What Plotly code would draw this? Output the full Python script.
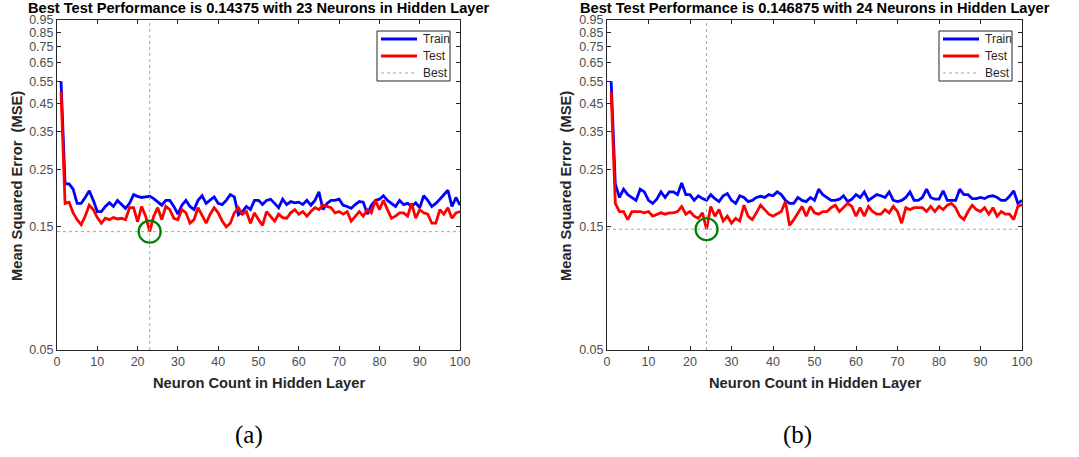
import math
import plotly.graph_objects as go

neurons = list(range(1, 101))

train_a = [0.55, 0.22, 0.22, 0.21, 0.185, 0.185, 0.195, 0.207, 0.19, 0.172,
           0.172, 0.18, 0.186, 0.18, 0.19, 0.183, 0.177, 0.185, 0.2, 0.197,
           0.195, 0.196, 0.197, 0.193, 0.188, 0.182, 0.19, 0.19, 0.18, 0.168,
           0.182, 0.19, 0.18, 0.175, 0.19, 0.198, 0.185, 0.19, 0.196, 0.185,
           0.183, 0.19, 0.2, 0.196, 0.167, 0.172, 0.18, 0.175, 0.19, 0.19,
           0.183, 0.19, 0.192, 0.185, 0.178, 0.192, 0.183, 0.188, 0.186, 0.187,
           0.183, 0.19, 0.182, 0.19, 0.205, 0.175, 0.185, 0.19, 0.19, 0.192,
           0.182, 0.18, 0.177, 0.183, 0.188, 0.187, 0.168, 0.182, 0.19, 0.192,
           0.198, 0.19, 0.185, 0.18, 0.19, 0.183, 0.185, 0.18, 0.186, 0.178,
           0.198, 0.19, 0.18, 0.185, 0.192, 0.2, 0.208, 0.18, 0.195, 0.182]

test_a = [0.5, 0.185, 0.187, 0.17, 0.16, 0.153, 0.165, 0.182, 0.175, 0.163,
          0.155, 0.162, 0.16, 0.163, 0.161, 0.162, 0.16, 0.178, 0.178, 0.157,
          0.18, 0.165, 0.14375, 0.165, 0.178, 0.16, 0.18, 0.175, 0.162, 0.16,
          0.175, 0.17, 0.155, 0.16, 0.178, 0.165, 0.155, 0.168, 0.178, 0.17,
          0.158, 0.15, 0.155, 0.17, 0.178, 0.168, 0.172, 0.155, 0.17, 0.16,
          0.152, 0.172, 0.165, 0.158, 0.168, 0.163, 0.162, 0.17, 0.175, 0.168,
          0.172, 0.165, 0.172, 0.178, 0.175, 0.182, 0.18, 0.178, 0.17, 0.172,
          0.168, 0.172, 0.158, 0.165, 0.172, 0.165, 0.175, 0.17, 0.19, 0.175,
          0.19, 0.175, 0.162, 0.165, 0.17, 0.17, 0.165, 0.185, 0.162, 0.175,
          0.17, 0.168, 0.155, 0.155, 0.175, 0.168, 0.178, 0.162, 0.17, 0.172]

train_b = [0.55, 0.22, 0.195, 0.21, 0.2, 0.195, 0.19, 0.21, 0.205, 0.19,
           0.185, 0.192, 0.205, 0.195, 0.205, 0.205, 0.2, 0.222, 0.2, 0.2,
           0.19, 0.198, 0.193, 0.19, 0.2, 0.193, 0.188, 0.198, 0.202, 0.19,
           0.185, 0.198, 0.195, 0.188, 0.19, 0.195, 0.197, 0.195, 0.2, 0.198,
           0.205, 0.2, 0.19, 0.185, 0.185, 0.195, 0.19, 0.188, 0.195, 0.19,
           0.21, 0.2, 0.195, 0.19, 0.19, 0.192, 0.198, 0.188, 0.192, 0.2,
           0.195, 0.205, 0.19, 0.195, 0.2, 0.198, 0.195, 0.205, 0.19, 0.188,
           0.19, 0.195, 0.205, 0.19, 0.19, 0.195, 0.21, 0.195, 0.192, 0.192,
           0.207, 0.19, 0.19, 0.19, 0.21, 0.2, 0.2, 0.193, 0.193, 0.195,
           0.193, 0.197, 0.198, 0.195, 0.19, 0.19, 0.197, 0.207, 0.185, 0.19]

test_b = [0.5, 0.185, 0.172, 0.172, 0.16, 0.172, 0.172, 0.172, 0.17, 0.172,
          0.165, 0.168, 0.17, 0.168, 0.17, 0.17, 0.172, 0.18, 0.168, 0.172,
          0.165, 0.162, 0.17, 0.146875, 0.18, 0.165, 0.175, 0.158, 0.165, 0.155,
          0.162, 0.158, 0.182, 0.165, 0.16, 0.17, 0.182, 0.175, 0.168, 0.165,
          0.168, 0.172, 0.188, 0.152, 0.16, 0.17, 0.18, 0.165, 0.18, 0.17,
          0.168, 0.172, 0.172, 0.178, 0.182, 0.172, 0.178, 0.185, 0.18, 0.165,
          0.178, 0.165, 0.18, 0.172, 0.168, 0.168, 0.175, 0.17, 0.18, 0.172,
          0.155, 0.178, 0.175, 0.178, 0.178, 0.178, 0.172, 0.18, 0.172, 0.18,
          0.175, 0.182, 0.185, 0.178, 0.165, 0.16, 0.172, 0.182, 0.175, 0.172,
          0.178, 0.168, 0.178, 0.165, 0.172, 0.168, 0.168, 0.16, 0.18, 0.183]

best_a = (23, 0.14375)
best_b = (24, 0.146875)
titles = ["Best Test Performance is 0.14375 with 23 Neurons in Hidden Layer",
          "Best Test Performance is 0.146875 with 24 Neurons in Hidden Layer"]
captions = ["(a)", "(b)"]
legend_names = ["Train", "Test", "Best"]
y_ticks = [0.05, 0.15, 0.25, 0.35, 0.45, 0.55, 0.65, 0.75, 0.85, 0.95]
x_ticks = list(range(0, 101, 10))
y_min, y_max = 0.05, 0.95

W, H = 1079, 457


def px(x):
    return x / W


def py(y):
    return 1 - y / H


ax_left = [57, 607]
ax_right = [460, 1022]
ax_top, ax_bot = 20, 350
domains_x = [(px(ax_left[i]), px(ax_right[i])) for i in range(2)]
dom_y = (py(ax_bot), py(ax_top))

fig = go.Figure()
panels = [(train_a, test_a, best_a), (train_b, test_b, best_b)]
for i, (tr, te, best) in enumerate(panels):
    xa = "x" if i == 0 else "x2"
    ya = "y" if i == 0 else "y2"
    fig.add_trace(go.Scatter(x=neurons, y=tr, mode="lines", name="Train",
                             line=dict(color="#0000ff", width=2.8),
                             xaxis=xa, yaxis=ya, showlegend=False))
    fig.add_trace(go.Scatter(x=neurons, y=te, mode="lines", name="Test",
                             line=dict(color="#ff0000", width=2.8),
                             xaxis=xa, yaxis=ya, showlegend=False))
    fig.add_trace(go.Scatter(x=[best[0], best[0], None, 0, 100],
                             y=[y_min, y_max, None, best[1], best[1]],
                             mode="lines", name="Best",
                             line=dict(color="#a6a6a6", width=1, dash="dot"),
                             xaxis=xa, yaxis=ya, showlegend=False))
    fig.add_trace(go.Scatter(x=[best[0]], y=[best[1]], mode="markers",
                             marker=dict(symbol="circle-open", size=22,
                                         color="#008000", line=dict(width=2.2)),
                             showlegend=False, xaxis=xa, yaxis=ya))

axis_common = dict(showline=True, linecolor="#262626", linewidth=1, mirror="ticks",
                   ticks="inside", ticklen=4, tickcolor="#262626", showgrid=False,
                   zeroline=False, automargin=False,
                   tickfont=dict(family="Arial", size=12.5, color="#4d4d4d"))
for i in range(2):
    sfx = "" if i == 0 else "2"
    fig.update_layout(**{
        "xaxis" + sfx: dict(domain=domains_x[i], range=[0, 100], tickvals=x_ticks,
                            anchor="y" + sfx, **axis_common),
        "yaxis" + sfx: dict(domain=dom_y, type="log",
                            range=[math.log10(y_min), math.log10(y_max)],
                            tickvals=y_ticks, ticktext=[f"{v:.2f}" for v in y_ticks],
                            anchor="x" + sfx, **axis_common),
    })

# legend boxes drawn inside each axes (MATLAB style, compact)
shapes = []
annotations = []
leg_styles = [dict(color="#0000ff", width=2.8, dash="solid"),
              dict(color="#ff0000", width=2.8, dash="solid"),
              dict(color="#a6a6a6", width=1, dash="dot")]
for i in range(2):
    r = ax_right[i] - 10
    l = r - 73
    t, b = ax_top + 11, ax_top + 61
    shapes.append(dict(type="rect", xref="paper", yref="paper",
                       x0=px(l), x1=px(r), y0=py(b), y1=py(t),
                       line=dict(color="#262626", width=1), fillcolor="white", layer="above"))
    for k, name in enumerate(legend_names):
        yy = t + 8 + 17 * k
        shapes.append(dict(type="line", xref="paper", yref="paper",
                           x0=px(l + 4), x1=px(l + 40), y0=py(yy), y1=py(yy),
                           line=leg_styles[k], layer="above"))
        annotations.append(dict(text=name, x=px(l + 44), y=py(yy), xref="paper", yref="paper",
                                showarrow=False, xanchor="left", yanchor="middle",
                                font=dict(family="Arial", size=12, color="#262626")))

centers = [(ax_left[i] + ax_right[i]) / 2 for i in range(2)]
for i in range(2):
    annotations.append(dict(text="<b>" + titles[i] + "</b>", x=px(centers[i]), y=py(8),
                            xref="paper", yref="paper", showarrow=False,
                            xanchor="center", yanchor="middle",
                            font=dict(family="Arial", size=14.6, color="#000000")))
    annotations.append(dict(text="<b>Neuron Count in Hidden Layer</b>", x=px(centers[i]), y=py(383),
                            xref="paper", yref="paper", showarrow=False,
                            xanchor="center", yanchor="middle",
                            font=dict(family="Arial", size=14.7, color="#262626")))
    annotations.append(dict(text="<b>Mean Squared Error  (MSE)</b>",
                            x=px(17 if i == 0 else 566), y=py(186),
                            xref="paper", yref="paper", showarrow=False,
                            xanchor="center", yanchor="middle", textangle=-90,
                            font=dict(family="Arial", size=14.7, color="#262626")))
    annotations.append(dict(text=captions[i], x=px(249 if i == 0 else 797), y=py(435),
                            xref="paper", yref="paper", showarrow=False,
                            xanchor="center", yanchor="middle",
                            font=dict(family="Liberation Serif", size=25, color="#000000")))

fig.update_layout(width=W, height=H, margin=dict(l=0, r=0, t=0, b=0, autoexpand=False),
                  paper_bgcolor="white", plot_bgcolor="white",
                  annotations=annotations, shapes=shapes, showlegend=False)

fig.write_html("out.html", config={"displayModeBar": False},
               post_script="document.body.style.margin='0';")
